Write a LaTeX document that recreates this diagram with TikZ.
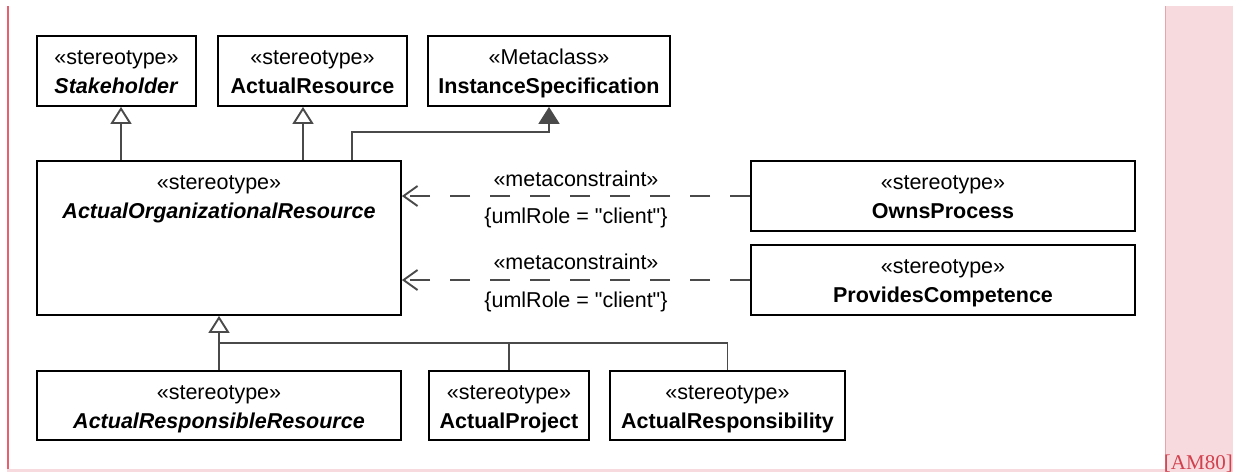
\documentclass[tikz,border=0pt]{standalone}
\usepackage{fontspec}
\setmainfont{Liberation Sans}[Ligatures=TeXOff]
\newfontfamily\refserif{Liberation Serif}
\usetikzlibrary{arrows.meta,calc}
\definecolor{linegray}{HTML}{4A4A4A}
\definecolor{pinkbg}{HTML}{F7DADD}
\definecolor{pinkline}{HTML}{E8A3AB}
\definecolor{leftred}{HTML}{E8606E}
\definecolor{refred}{HTML}{D2404E}
\begin{document}
\begin{tikzpicture}[x=1pt,y=-1pt,
  umlbox/.style={draw=black, line width=1.8pt, inner sep=0pt},
  txt/.style={font=\fontsize{21.5}{29}\selectfont, anchor=base, inner sep=0pt},
  conn/.style={draw=linegray, line width=1.9pt},
  gen/.style={conn, -{Triangle[open, length=17pt, width=21pt, fill=white]}},
  meta/.style={conn, -{Triangle[length=17pt, width=21pt, fill=linegray]}},
  dep/.style={conn, dash pattern=on 20pt off 20pt, -{Straight Barb[length=14pt, width=20pt]}},
]
\useasboundingbox (0,0) rectangle (1233,472);
% frame decorations
\fill[pinkbg] (1165,6) rectangle (1233,472);
\draw[pinkline, line width=1pt] (1165,6) -- (1165,472);
\draw[leftred, line width=2pt] (7.5,6) -- (7.5,470);
\draw[pinkbg, line width=2.5pt] (7,470.5) -- (1165,470.5);
\node[font=\refserif\fontsize{21}{24}\selectfont, text=refred, anchor=base east, inner sep=0pt] (ref) at (1233,469) {[AM80]};

% boxes
\node[umlbox, minimum width=159pt, minimum height=70pt] (st) at (116.5,71) {};
\node[umlbox, minimum width=189pt, minimum height=70pt] (ar) at (312.5,71) {};
\node[umlbox, minimum width=242pt, minimum height=70pt] (is) at (549,71) {};
\node[umlbox, minimum width=364pt, minimum height=154pt] (aor) at (219,238) {};
\node[umlbox, minimum width=384pt, minimum height=70pt] (op) at (943,196) {};
\node[umlbox, minimum width=384pt, minimum height=70pt] (pc) at (943,280) {};
\node[umlbox, minimum width=364pt, minimum height=69pt] (arr) at (219,405.5) {};
\node[umlbox, minimum width=160pt, minimum height=69pt] (proj) at (509,405.5) {};
\node[umlbox, minimum width=235pt, minimum height=69pt] (resp) at (727.5,405.5) {};

% texts
\node[txt] (stA) at ($(st.north)+(0,29)$) {«stereotype»};
\node[txt] (stB) at ($(st.north)+(0,58)$) {\textbf{\textit{Stakeholder}}};
\node[txt] (arA) at ($(ar.north)+(0,29)$) {«stereotype»};
\node[txt] (arB) at ($(ar.north)+(0,58)$) {\textbf{ActualResource}};
\node[txt] (isA) at ($(is.north)+(0,29)$) {«Metaclass»};
\node[txt] (isB) at ($(is.north)+(0,58)$) {\textbf{InstanceSpecification}};
\node[txt] (aorA) at ($(aor.north)+(0,29)$) {«stereotype»};
\node[txt] (aorB) at ($(aor.north)+(0,58)$) {\textbf{\textit{ActualOrganizationalResource}}};
\node[txt] (opA) at ($(op.north)+(0,29)$) {«stereotype»};
\node[txt] (opB) at ($(op.north)+(0,58)$) {\textbf{OwnsProcess}};
\node[txt] (pcA) at ($(pc.north)+(0,29)$) {«stereotype»};
\node[txt] (pcB) at ($(pc.north)+(0,58)$) {\textbf{ProvidesCompetence}};
\node[txt] (arrA) at ($(arr.north)+(0,29)$) {«stereotype»};
\node[txt] (arrB) at ($(arr.north)+(0,58)$) {\textbf{\textit{ActualResponsibleResource}}};
\node[txt] (projA) at ($(proj.north)+(0,29)$) {«stereotype»};
\node[txt] (projB) at ($(proj.north)+(0,58)$) {\textbf{ActualProject}};
\node[txt] (respA) at ($(resp.north)+(0,29)$) {«stereotype»};
\node[txt] (respB) at ($(resp.north)+(0,58)$) {\textbf{ActualResponsibility}};

% generalizations
\draw[gen] (aor.north -| 121,0) -- (st.south -| 121,0);
\draw[gen] (aor.north -| 303,0) -- (ar.south -| 303,0);
\draw[meta] (aor.north -| 352,0) -- ++(0,-28) -| (is.south);
\coordinate (j) at (219,343);
\draw[gen] (arr.north) -- (aor.south);
\draw[conn] (j) -| (resp.north);
\draw[conn] (proj.north) -- (proj.north |- j);

% dependencies
\draw[dep] (op.west) -- (op.west -| aor.east);
\draw[dep] (pc.west) -- (pc.west -| aor.east);
\node[txt] (m1a) at (576,186) {«metaconstraint»};
\node[txt] (m1b) at (576,223) {\{umlRole = "client"\}};
\node[txt] (m2a) at (576,269) {«metaconstraint»};
\node[txt] (m2b) at (576,307) {\{umlRole = "client"\}};
\end{tikzpicture}
\end{document}
